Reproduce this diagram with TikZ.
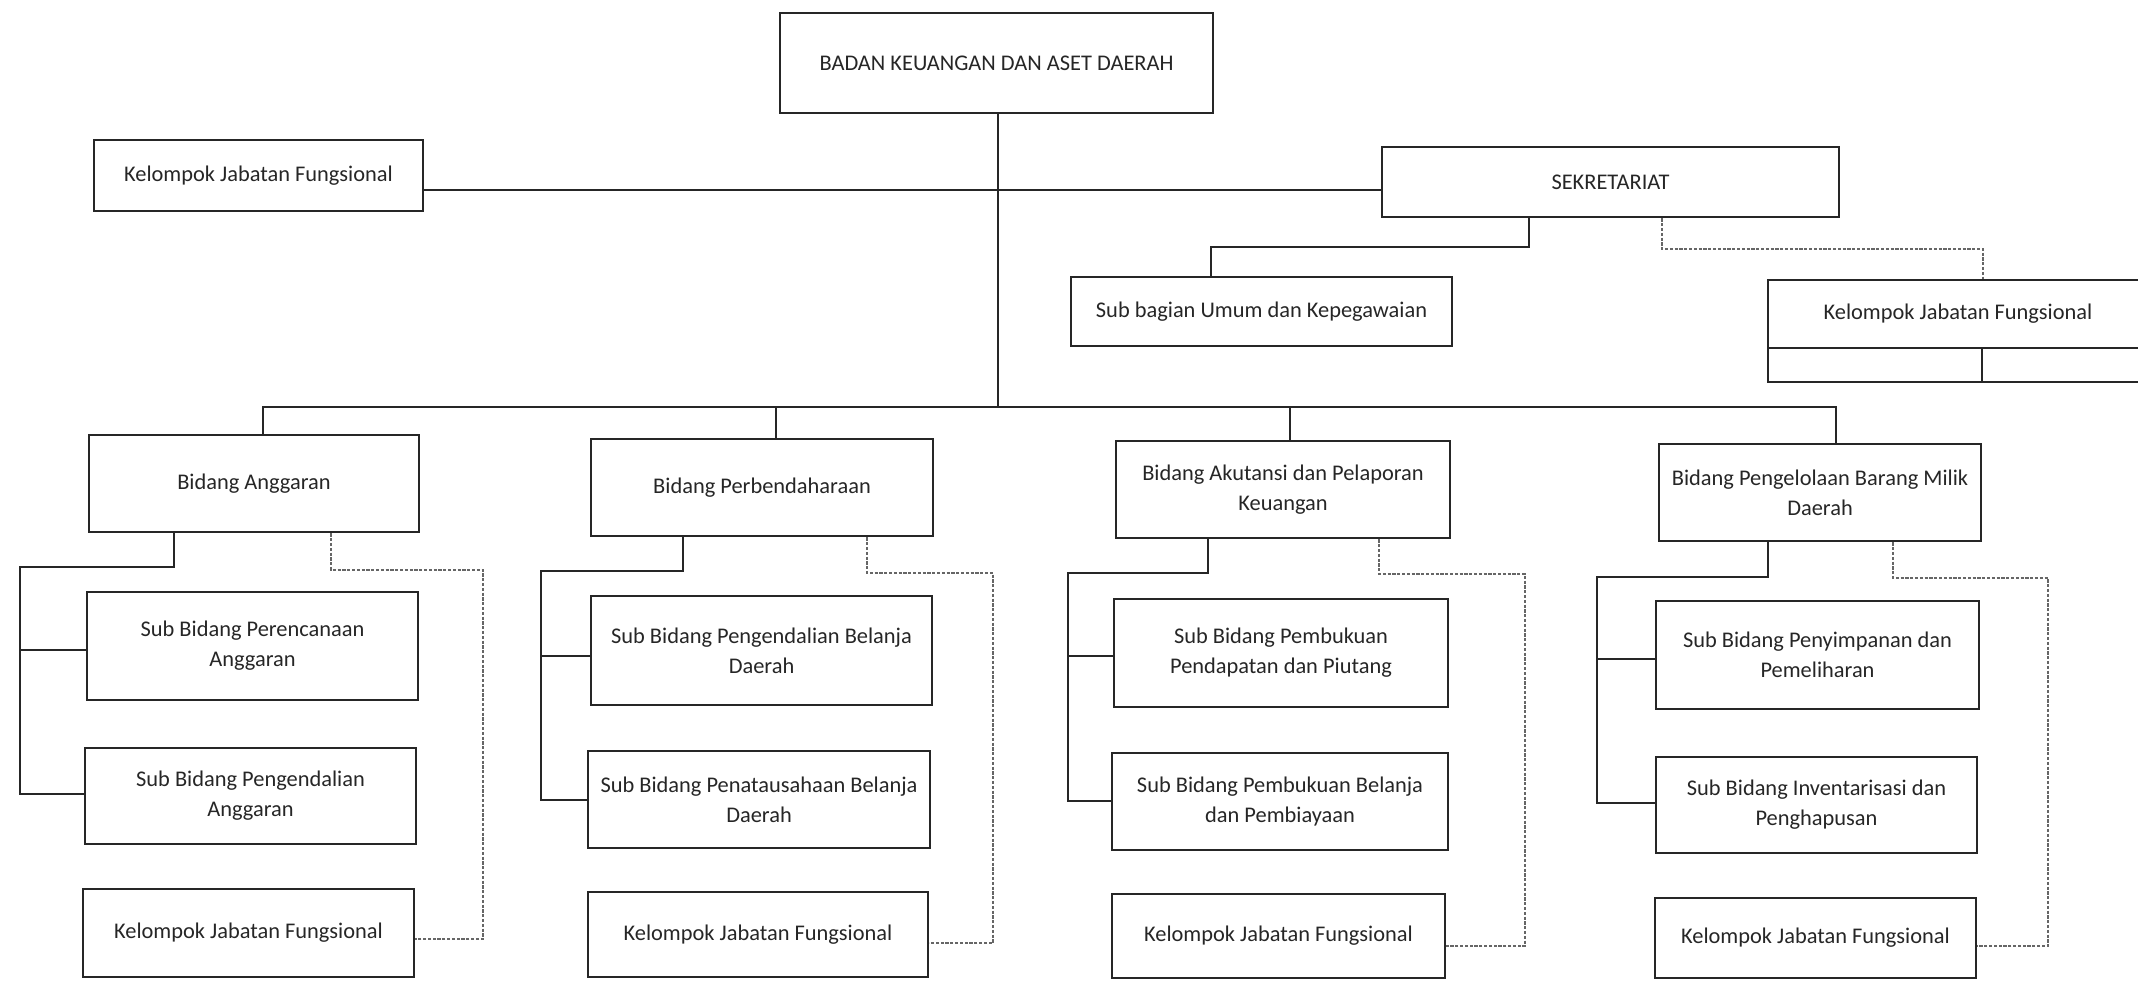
\documentclass[tikz,border=0pt]{standalone}
\usepackage{fontspec}
\setmainfont{Carlito}
\begin{document}
\begin{tikzpicture}[x=0.5pt,y=-0.5pt,
  box/.style 2 args={draw=black!85, line width=1.4pt, rectangle, align=center,
    text=black!85, font=\fontsize{11.2}{15}\selectfont, inner sep=0pt,
    minimum width=#1*0.5pt, minimum height=#2*0.5pt},
  link/.style={draw=black!85, line width=1.2pt},
  dotlink/.style={draw=black!60, line width=0.8pt, dash pattern=on 1.6pt off 0.8pt}]
\useasboundingbox (0,0) rectangle (2138,983);
\clip (0,0) rectangle (2138,983);

% head and staff units
\node[box={433}{100}] (top) at (996.5,63) {BADAN KEUANGAN DAN ASET DAERAH};
\node[box={329}{71}] (kjfL) at (258.5,175.5) {Kelompok Jabatan Fungsional};
\node[box={457}{70}] (sek) at (1610.5,182) {SEKRETARIAT};
\node[box={381}{69}] (sub) at (1261.5,311.5) {Sub bagian Umum dan Kepegawaian};
\node[box={380}{68}] (kjfR) at (1958,314) {Kelompok Jabatan Fungsional};
\node[box={380}{34}] (kjfRlow) at (1958,365) {};
\draw[line width=1.2pt, draw=black!85] (1982,348) -- (kjfRlow.south -| 1982,0);

% divisions
\node[box={330}{97}] (b1) at (254,483.5) {Bidang Anggaran};
\node[box={331}{108}] (s11) at (252.5,646) {Sub Bidang Perencanaan\\Anggaran};
\node[box={331}{96}] (s12) at (250.5,796) {Sub Bidang Pengendalian\\Anggaran};
\node[box={331}{88}] (k1) at (248.5,933) {Kelompok Jabatan Fungsional};

\node[box={342}{97}] (b2) at (762,487.5) {Bidang Perbendaharaan};
\node[box={341}{109}] (s21) at (761.5,650.5) {Sub Bidang Pengendalian Belanja\\Daerah};
\node[box={342}{97}] (s22) at (759,799.5) {Sub Bidang Penatausahaan Belanja\\Daerah};
\node[box={340}{85}] (k2) at (758,934.5) {Kelompok Jabatan Fungsional};

\node[box={334}{97}] (b3) at (1283,489.5) {Bidang Akutansi dan Pelaporan\\Keuangan};
\node[box={334}{108}] (s31) at (1281,653) {Sub Bidang Pembukuan\\Pendapatan dan Piutang};
\node[box={336}{97}] (s32) at (1280,801.5) {Sub Bidang Pembukuan Belanja\\dan Pembiayaan};
\node[box={333}{84}] (k3) at (1278.5,936) {Kelompok Jabatan Fungsional};

\node[box={322}{97}] (b4) at (1820,492.5) {Bidang Pengelolaan Barang Milik\\Daerah};
\node[box={323}{108}] (s41) at (1817.5,655) {Sub Bidang Penyimpanan dan\\Pemeliharan};
\node[box={321}{96}] (s42) at (1816.5,805) {Sub Bidang Inventarisasi dan\\Penghapusan};
\node[box={321}{80}] (k4) at (1815.5,938) {Kelompok Jabatan Fungsional};

% top-level lines
\coordinate (hl) at (0,190);
\coordinate (bar) at (0,407);
\draw[link] (kjfL.east |- hl) -- (sek.west |- hl);
\draw[link] (top.south -| 998,0) -- (998,407);
\draw[link] (b1.north -| 263,0) -- (263,407) -- (1836,407) -- (b4.north -| 1836,0);
\draw[link] (776,407) -- (b2.north -| 776,0);
\draw[link] (1290,407) -- (b3.north -| 1290,0);

% secretariat branches
\coordinate (s1) at (1529,247);
\coordinate (s2) at (1211,247);
\draw[link] (sek.south -| s1) -- (s1) -- (s2) -- (s2 |- sub.north);
\coordinate (d1) at (1662,249);
\coordinate (d2) at (1983,249);
\draw[dotlink] (sek.south -| d1) -- (d1) -- (d2) -- (d2 |- kjfR.north);

% column 1
\draw[link] (b1.south -| 174,0) -- (174,567) -- (20,567) -- (20,794) -- (s12.west |- 0,794);
\draw[link] (20,650) -- (s11.west |- 0,650);
\draw[dotlink] (b1.south -| 331,0) -- (331,570) -- (483,570) -- (483,939) -- (k1.east |- 0,939);

% column 2
\draw[link] (b2.south -| 683,0) -- (683,571) -- (541,571) -- (541,800) -- (s22.west |- 0,800);
\draw[link] (541,656) -- (s21.west |- 0,656);
\draw[dotlink] (b2.south -| 867,0) -- (867,573) -- (993,573) -- (993,943) -- (k2.east |- 0,943);

% column 3
\draw[link] (b3.south -| 1208,0) -- (1208,573) -- (1068,573) -- (1068,801) -- (s32.west |- 0,801);
\draw[link] (1068,656) -- (s31.west |- 0,656);
\draw[dotlink] (b3.south -| 1379,0) -- (1379,574) -- (1525,574) -- (1525,946) -- (k3.east |- 0,946);

% column 4
\draw[link] (b4.south -| 1768,0) -- (1768,577) -- (1597,577) -- (1597,803) -- (s42.west |- 0,803);
\draw[link] (1597,659) -- (s41.west |- 0,659);
\draw[dotlink] (b4.south -| 1893,0) -- (1893,578) -- (2048,578) -- (2048,946) -- (k4.east |- 0,946);
\end{tikzpicture}
\end{document}
